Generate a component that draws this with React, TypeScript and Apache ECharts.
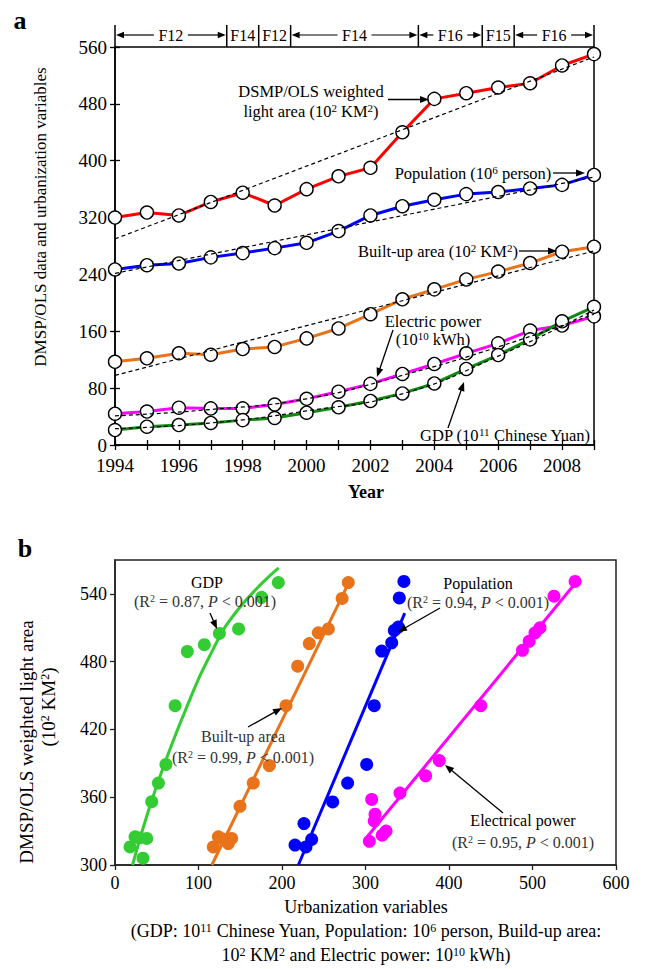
import React, { useEffect, useRef } from "react";
import * as echarts from "echarts";

// ---------- Panel a data ----------
const years = [1994, 1995, 1996, 1997, 1998, 1999, 2000, 2001, 2002, 2003, 2004, 2005, 2006, 2007, 2008, 2009];
const lightArea = [320, 327, 323, 342, 355, 337, 360, 378, 390, 440, 487, 495, 503, 509, 534, 550];
const population = [247, 253, 255.5, 264, 270, 277, 284.5, 301, 323, 336, 345, 353, 356, 361, 366, 380];
const builtUp = [117, 122, 129, 127, 135, 138, 150, 164, 184, 205, 219, 233, 244, 256, 272, 279];
const electric = [44, 47, 52.5, 51.5, 51.5, 57, 65, 75, 86, 100, 114, 129, 143, 161, 168, 181];
const gdp = [21, 25.7, 28, 31, 35, 38, 45.5, 53, 62, 72.6, 86.6, 107, 126.6, 148.6, 174, 194.5];

const trendYearsLinear = [1994, 2009];
const lightTrend = [290, 546];
const popTrend = [241.5, 377];
const builtTrend = [98, 273];
const trendYearsCurve = [1994, 1997, 2000, 2003, 2006, 2009];
const elecTrend = [41, 50, 65, 98, 138, 184];
const gdpTrend = [23, 31, 48, 72, 125, 190];

const yTicksA = { min: 0, max: 560, interval: 80 };
const headerBounds = [1994, 1997.5, 1998.5, 1999.5, 2003.5, 2005.5, 2006.5, 2009];
const headerLabels = ["F12", "F14", "F12", "F14", "F16", "F15", "F16"];

// ---------- Panel b data ----------
const gdpX = [18, 24, 29, 33.5, 38, 44, 52, 61, 72, 86.6, 107, 125, 148, 175.6, 195.6];
const gdpY = [316, 325, 324, 306, 323.5, 356, 372.5, 389, 441, 489, 495, 505, 509, 537, 550];
const builtX = [117.7, 123.8, 129, 135.7, 139.7, 149.7, 165.6, 184.8, 204.8, 218.8, 232.7, 243.5, 255.5, 272, 279.4];
const builtY = [316, 325, 323, 319, 323.5, 352, 372.5, 388, 441, 476, 496, 505.5, 509, 536, 550];
const popX = [215.6, 226.3, 228.7, 235.5, 260.7, 278.6, 301.4, 310.5, 319.4, 331.4, 334.5, 339.3, 340.5, 346];
const popY = [317.6, 336.7, 316, 322.6, 355.8, 372.5, 389, 441, 489.4, 496.7, 507.6, 510.6, 536.4, 551];
const elecX = [304.6, 310.5, 311.4, 307.4, 320, 324.6, 341.3, 372, 388.4, 438, 488, 496, 503, 509, 525.7, 551];
const elecY = [321, 339, 345, 358, 326.4, 330, 363.7, 379, 392.5, 441, 490, 498, 505.5, 510, 538, 551];

const gdpFitX = [21, 40, 62, 86, 112, 145, 196];
const gdpFitY = [300, 348, 395, 440, 483, 524, 563];
const builtFitX = [116, 282];
const builtFitY = [300, 553];
const popFitX = [219.6, 347];
const popFitY = [300, 523];
const elecFitX = [302, 553];
const elecFitY = [325, 551];

const xTicksB = { min: 0, max: 600, interval: 100 };
const yTicksB = { min: 300, max: 570, interval: 60 };

const FONT = "Liberation Serif, Times New Roman, serif";

const pairs = (xs: number[], ys: number[]) => xs.map((x, i) => [x, ys[i]]);

// text with ^{..} superscripts and *{..} italics, rendered as rich text
function txt(text: string, x: number, y: number, o: any = {}) {
  const size = o.size || 16;
  const fill = o.fill || "#000";
  const weight = o.weight || "normal";
  const hasMarks = /[\^*]\{/.test(text);
  let rich: any = undefined;
  let str = text;
  if (hasMarks) {
    const parts = text.split(/(\^\{[^}]*\}|\*\{[^}]*\})/).filter((p) => p.length > 0);
    str = parts
      .map((p) => {
        if (p.startsWith("^{")) return `{s|${p.slice(2, -1)}}`;
        if (p.startsWith("*{")) return `{i|${p.slice(2, -1)}}`;
        return `{n|${p}}`;
      })
      .join("");
    const base = { fontSize: size, fontFamily: FONT, fill, fontWeight: weight };
    rich = {
      n: { ...base },
      i: { ...base, fontStyle: "italic" },
      s: { ...base, fontSize: Math.round(size * 0.64), verticalAlign: "top" },
    };
  }
  return {
    type: "text",
    x,
    y,
    rotation: o.rot || 0,
    z: 100,
    style: {
      text: str,
      fill,
      fontSize: size,
      fontFamily: FONT,
      fontWeight: weight,
      textAlign: "center",
      align: "center",
      textVerticalAlign: "middle",
      verticalAlign: "middle",
      rich,
    },
  };
}

function arrow(x1: number, y1: number, x2: number, y2: number, head = 9, hw = 3.5, lw = 1.3) {
  const dx = x2 - x1;
  const dy = y2 - y1;
  const len = Math.hypot(dx, dy);
  const ux = dx / len;
  const uy = dy / len;
  const bx = x2 - ux * head;
  const by = y2 - uy * head;
  return [
    { type: "line", z: 100, shape: { x1, y1, x2: bx + ux, y2: by + uy }, style: { stroke: "#000", lineWidth: lw } },
    {
      type: "polygon",
      z: 100,
      shape: { points: [[x2, y2], [bx - uy * hw, by + ux * hw], [bx + uy * hw, by - ux * hw]] },
      style: { fill: "#000" },
    },
  ];
}

export default function App() {
  const ref = useRef<HTMLDivElement>(null);
  useEffect(() => {
    const chart = echarts.init(ref.current!, null, { renderer: "svg" });
    const axisLineStyle = { color: "#000", width: 1.5 };
    const dataLine = (name: string, ys: number[], color: string) => ({
      name,
      type: "line",
      xAxisIndex: 0,
      yAxisIndex: 0,
      data: pairs(years, ys),
      symbol: "circle",
      symbolSize: 13,
      lineStyle: { color, width: 3 },
      itemStyle: { color: "#fff", borderColor: "#000", borderWidth: 1.4 },
      z: 2,
    });
    const trendLine = (xs: number[], ys: number[], smooth: boolean) => ({
      type: "line",
      xAxisIndex: 0,
      yAxisIndex: 0,
      data: pairs(xs, ys),
      symbol: "none",
      smooth,
      lineStyle: { color: "#000", width: 1.2, type: [4, 3] },
      z: 4,
    });
    const scatter = (xs: number[], ys: number[], color: string) => ({
      type: "scatter",
      xAxisIndex: 2,
      yAxisIndex: 2,
      data: pairs(xs, ys),
      symbolSize: 13,
      itemStyle: { color, opacity: 1 },
      z: 4,
    });
    const fit = (xs: number[], ys: number[], color: string, smooth: boolean) => ({
      type: "line",
      xAxisIndex: 2,
      yAxisIndex: 2,
      data: pairs(xs, ys),
      symbol: "none",
      smooth,
      lineStyle: { color, width: 3 },
      z: 3,
    });

    const option: any = {
      animation: false,
      backgroundColor: "#fff",
      textStyle: { fontFamily: FONT },
      grid: [
        { left: 115, top: 47, width: 479, height: 398, show: true, borderColor: "#000", borderWidth: 1.5, backgroundColor: "transparent" },
        { left: 115, top: 560, width: 501, height: 305, show: true, borderColor: "#222", borderWidth: 1.5, backgroundColor: "transparent" },
      ],
      xAxis: [
        {
          type: "value",
          gridIndex: 0,
          min: 1994,
          max: 2009,
          interval: 1,
          position: "bottom",
          axisLine: { show: true, lineStyle: axisLineStyle },
          axisTick: { show: true, length: 5, lineStyle: { color: "#000", width: 1.3 } },
          axisLabel: {
            color: "#000",
            fontSize: 19,
            fontFamily: FONT,
            margin: 11,
            formatter: (v: number) => (v % 2 === 0 ? String(v) : ""),
          },
          splitLine: { show: false },
        },
        {
          type: "value",
          gridIndex: 0,
          min: 1994,
          max: 2009,
          interval: 1,
          position: "bottom",
          axisLine: { show: false },
          axisTick: { show: true, inside: true, length: 5, lineStyle: { color: "#000", width: 1.3 } },
          axisLabel: { show: false },
          splitLine: { show: false },
        },
        {
          type: "value",
          gridIndex: 1,
          ...xTicksB,
          position: "bottom",
          axisLine: { show: true, lineStyle: { color: "#222", width: 1.5 } },
          axisTick: { show: true, length: 5, lineStyle: { color: "#222", width: 1.3 } },
          axisLabel: { color: "#000", fontSize: 18, fontFamily: FONT, margin: 9 },
          splitLine: { show: false },
        },
      ],
      yAxis: [
        {
          type: "value",
          gridIndex: 0,
          ...yTicksA,
          position: "left",
          axisLine: { show: true, lineStyle: axisLineStyle },
          axisTick: { show: true, length: 5, lineStyle: { color: "#000", width: 1.3 } },
          axisLabel: { color: "#000", fontSize: 19, fontFamily: FONT, margin: 8 },
          splitLine: { show: false },
        },
        {
          type: "value",
          gridIndex: 0,
          ...yTicksA,
          position: "left",
          axisLine: { show: false },
          axisTick: { show: true, inside: true, length: 5, lineStyle: { color: "#000", width: 1.3 } },
          axisLabel: { show: false },
          splitLine: { show: false },
        },
        {
          type: "value",
          gridIndex: 1,
          ...yTicksB,
          position: "left",
          axisLine: { show: true, lineStyle: { color: "#222", width: 1.5 } },
          axisTick: { show: true, length: 5, lineStyle: { color: "#222", width: 1.3 } },
          axisLabel: { color: "#000", fontSize: 18, fontFamily: FONT, margin: 8, showMaxLabel: false },
          splitLine: { show: false },
        },
      ],
      series: [
        dataLine("DSMP/OLS weighted light area", lightArea, "#ff0000"),
        dataLine("Population", population, "#0000ff"),
        dataLine("Built-up area", builtUp, "#e8731a"),
        dataLine("Electric power", electric, "#ff00ff"),
        dataLine("GDP", gdp, "#118a11"),
        trendLine(trendYearsLinear, lightTrend, false),
        trendLine(trendYearsLinear, popTrend, false),
        trendLine(trendYearsLinear, builtTrend, false),
        trendLine(trendYearsCurve, elecTrend, true),
        trendLine(trendYearsCurve, gdpTrend, true),
        fit(gdpFitX, gdpFitY, "#33cc33", true),
        fit(builtFitX, builtFitY, "#e8731a", false),
        fit(popFitX, popFitY, "#0000ff", false),
        fit(elecFitX, elecFitY, "#ff00ff", false),
        scatter(gdpX, gdpY, "#33cc33"),
        scatter(builtX, builtY, "#e8731a"),
        scatter(popX, popY, "#0000ff"),
        scatter(elecX, elecY, "#ff00ff"),
      ],
    };
    chart.setOption(option);

    // header bands above panel a, placed through the axis scale
    const px = headerBounds.map((yr) => chart.convertToPixel({ seriesIndex: 0 }, [yr, yTicksA.max]) as number[]);
    const topY = px[0][1];
    const headTop = topY - 22;
    const arrowY = topY - 12;
    const g: any[] = [];
    px.forEach((p) => {
      g.push({ type: "line", z: 100, shape: { x1: p[0], y1: headTop, x2: p[0], y2: topY }, style: { stroke: "#000", lineWidth: 1.5 } });
    });
    headerLabels.forEach((lab, i) => {
      const x0 = px[i][0];
      const x1 = px[i + 1][0];
      const cx = (x0 + x1) / 2;
      g.push(txt(lab, cx, arrowY, { size: 16 }));
      if (x1 - x0 > 50) {
        g.push(...arrow(cx - 17, arrowY, x0 + 1, arrowY, 8, 3.2, 1.2));
        g.push(...arrow(cx + 17, arrowY, x1 - 1, arrowY, 8, 3.2, 1.2));
      }
    });

    // panel letters
    g.push(txt("a", 20, 20, { size: 26, weight: "bold" }));
    g.push(txt("b", 25, 548, { size: 26, weight: "bold" }));

    // panel a annotations
    g.push(txt("DSMP/OLS weighted", 311, 91, { size: 16.5 }));
    g.push(txt("light area (10^{2} KM^{2})", 311, 111, { size: 16.5 }));
    g.push(...arrow(388, 99.5, 429, 99.5));
    g.push(txt("Population (10^{6} person)", 473, 173, { size: 16.5 }));
    g.push(...arrow(553, 173, 585, 173));
    g.push(txt("Built-up area (10^{2} KM^{2})", 438, 251, { size: 16.5 }));
    g.push(...arrow(519, 251, 557, 251));
    g.push(txt("Electric power", 433, 321, { size: 16.5 }));
    g.push(txt("(10^{10} kWh)", 433, 339, { size: 16.5 }));
    g.push(...arrow(393, 330, 377, 377));
    g.push(txt("GDP (10^{11} Chinese Yuan)", 505, 435, { size: 16.5 }));
    g.push(...arrow(448, 428, 464, 382));

    // axis titles panel a
    g.push(txt("DMSP/OLS data and urbanization variables", 40, 217, { size: 17, rot: Math.PI / 2 }));
    g.push(txt("Year", 366, 492, { size: 18, weight: "bold" }));

    // panel b annotations
    const gray = "#333";
    g.push(txt("GDP", 207, 582, { size: 16 }));
    g.push(txt("(R^{2} = 0.87, *{P} < 0.001)", 205, 601, { size: 16, fill: gray }));
    g.push(...arrow(210, 613, 217, 629));
    g.push(txt("Built-up area", 243, 736, { size: 16, fill: gray }));
    g.push(txt("(R^{2} = 0.99, *{P} < 0.001)", 243, 757, { size: 16, fill: gray }));
    g.push(...arrow(248, 727, 282, 708));
    g.push(txt("Population", 478, 583, { size: 16 }));
    g.push(txt("(R^{2} = 0.94, *{P} < 0.001)", 478, 602, { size: 16, fill: gray }));
    g.push(...arrow(440, 608, 398, 632));
    g.push(txt("Electrical power", 523, 820, { size: 16 }));
    g.push(txt("(R^{2} = 0.95, *{P} < 0.001)", 523, 842, { size: 16, fill: gray }));
    g.push(...arrow(503, 813, 445, 765));

    // axis titles panel b
    g.push(txt("DMSP/OLS weighted light area", 26, 742, { size: 19, rot: Math.PI / 2 }));
    g.push(txt("(10^{2} KM^{2})", 48, 707, { size: 19, rot: Math.PI / 2 }));
    g.push(txt("Urbanization variables", 366, 907, { size: 18 }));
    g.push(txt("(GDP: 10^{11} Chinese Yuan, Population: 10^{6} person, Build-up area:", 366, 931, { size: 18 }));
    g.push(txt("10^{2} KM^{2} and Electric power: 10^{10} kWh)", 366, 955, { size: 18 }));

    chart.setOption({ graphic: g });

    return () => chart.dispose();
  }, []);

  return (
    <div
      ref={ref}
      style={{ position: "absolute", left: 0, top: 0, width: 646, height: 969, background: "#fff" }}
    />
  );
}
